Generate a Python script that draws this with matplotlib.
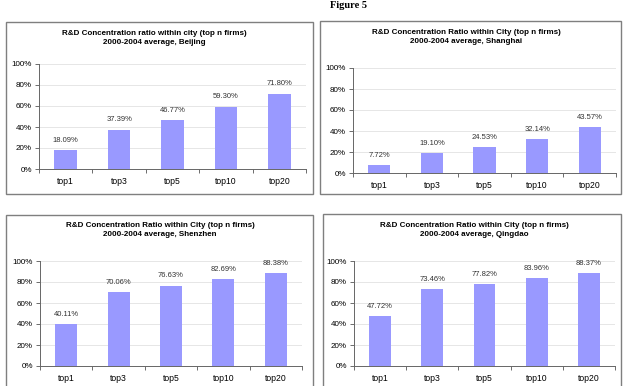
import numpy as np
import matplotlib.pyplot as plt
from matplotlib.patches import Rectangle
from matplotlib.ticker import PercentFormatter

plt.rcParams['font.family'] = ['Liberation Sans', 'DejaVu Sans']

# data
categories = ['top1', 'top3', 'top5', 'top10', 'top20']
beijing = [18.09, 37.39, 46.77, 59.30, 71.80]
shanghai = [7.72, 19.10, 24.53, 32.14, 43.57]
shenzhen = [40.11, 70.06, 76.63, 82.69, 88.38]
qingdao = [47.72, 73.46, 77.82, 83.96, 88.37]

titles = [
    "R&D Concentration ratio within city (top n firms)\n2000-2004 average, Beijing",
    "R&D Concentration Ratio within City (top n firms)\n2000-2004 average, Shanghai",
    "R&D Concentration Ratio within City (top n firms)\n2000-2004 average, Shenzhen",
    "R&D Concentration Ratio within City (top n firms)\n2000-2004 average, Qingdao",
]
series = [beijing, shanghai, shenzhen, qingdao]

W, H = 628, 386
fig = plt.figure(figsize=(W / 100, H / 100), dpi=100)


def px_rect(x0, y0, x1, y1):
    return [x0 / W, 1 - y1 / H, (x1 - x0) / W, (y1 - y0) / H]


# chart boxes (pixels: left, top, right, bottom)
boxes = [(6, 22, 313, 194), (320, 21, 621, 194), (6, 215, 313, 392), (323, 214, 621, 392)]
# plot areas
areas = [(39, 64, 306, 169), (353, 68, 616, 173), (40, 261, 302, 366), (354, 261, 615, 366)]
# title centres
title_pos = [(154, 38), (466, 37), (160, 230), (474, 230)]

for (bx0, by0, bx1, by1) in boxes:
    fig.patches.append(Rectangle((bx0 / W, 1 - by1 / H), (bx1 - bx0) / W, (by1 - by0) / H,
                                 transform=fig.transFigure, fill=False,
                                 edgecolor='#7f7f7f', linewidth=1.0))

fig.text(348 / W, 1 - 1 / H, "Figure 5", family='Liberation Serif', weight='bold',
         fontsize=7.5, ha='center', va='top')

x = np.arange(len(categories))
for vals, title, area, tp in zip(series, titles, areas, title_pos):
    ax = fig.add_axes(px_rect(*area))
    vals = np.array(vals) / 100
    bars = ax.bar(x, vals, width=0.42, color='#9999ff', zorder=2)
    for b, v in zip(bars, vals):
        ax.annotate(f"{v * 100:.2f}%", (b.get_x() + b.get_width() / 2, v),
                    xytext=(0, 4.5), textcoords='offset points',
                    ha='center', va='bottom', fontsize=5.5, color='#333333')
    ax.set_xlim(-0.5, len(categories) - 0.5)
    ax.set_ylim(0, 1)
    ax.set_yticks(np.arange(0, 1.01, 0.2))
    ax.yaxis.set_major_formatter(PercentFormatter(1.0, decimals=0))
    ax.grid(axis='y', color='#e6e6e6', linewidth=0.7, zorder=0)
    ax.set_xticks(x)
    ax.set_xticklabels(categories)
    ax.set_xticks(np.arange(-0.5, len(categories)), minor=True)
    ax.tick_params(axis='x', which='major', length=0, pad=6, labelsize=6.2)
    ax.tick_params(axis='x', which='minor', length=3, color='#555555', width=0.6)
    ax.tick_params(axis='y', length=3, color='#555555', width=0.6, labelsize=5.8, pad=2)
    for s in ['top', 'right']:
        ax.spines[s].set_visible(False)
    for s in ['left', 'bottom']:
        ax.spines[s].set_color('#666666')
        ax.spines[s].set_linewidth(0.7)
    fig.text(tp[0] / W, 1 - tp[1] / H, title, ha='center', va='center',
             fontsize=5.8, weight='bold', linespacing=1.4)

fig.savefig('out.png', dpi=100)
